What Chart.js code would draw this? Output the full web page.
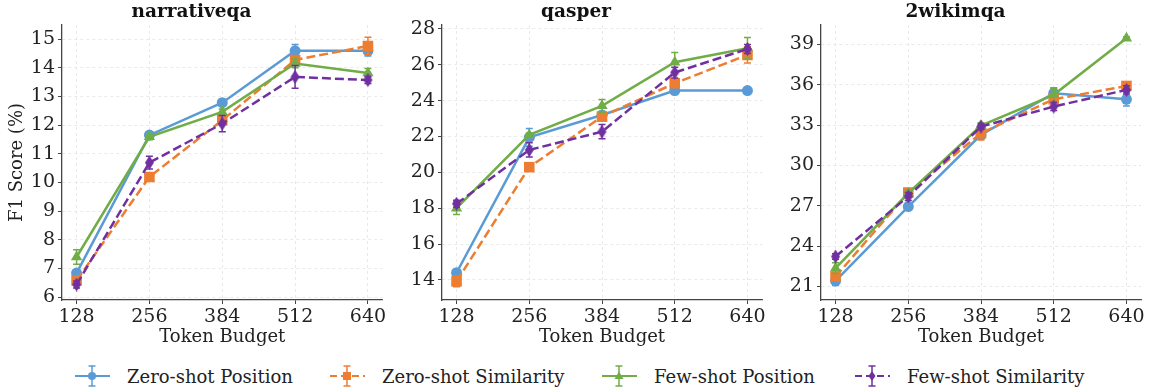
<!DOCTYPE html>
<html>
<head>
<meta charset="utf-8">
<script src="https://cdn.jsdelivr.net/npm/chart.js@4.4.0/dist/chart.umd.min.js"></script>
<style>
  body { margin: 0; background: #fff; width: 1150px; height: 392px; overflow: hidden; position: relative; font-family: "DejaVu Serif", serif; }
  canvas { position: absolute; top: 0; }
  .legend-item { position: absolute; top: 364px; height: 24px; display: flex; align-items: center; font-size: 18px; color: #222; white-space: nowrap; }
  .legend-item svg { margin-right: 17px; }
</style>
</head>
<body>
<canvas id="c1" width="390" height="355" style="left:0px"></canvas>
<canvas id="c2" width="380" height="355" style="left:390px"></canvas>
<canvas id="c3" width="380" height="355" style="left:770px"></canvas>
<div id="legend"></div>
<script>
// token budgets on the x axis
const budgets = [128, 256, 384, 512, 640];
const seriesNames = ['Zero-shot Position', 'Zero-shot Similarity', 'Few-shot Position', 'Few-shot Similarity'];

// narrativeqa
const nqaZeroPos = [6.84, 11.65, 12.78, 14.59, 14.59];
const nqaZeroPosErr = [0.1, 0.08, 0.12, 0.22, 0.18];
const nqaZeroSim = [6.58, 10.19, 12.17, 14.27, 14.76];
const nqaZeroSimErr = [0.1, 0.08, 0.1, 0.12, 0.3];
const nqaFewPos = [7.4, 11.59, 12.46, 14.15, 13.82];
const nqaFewPosErr = [0.25, 0.1, 0.1, 0.15, 0.15];
const nqaFewSim = [6.44, 10.69, 12.05, 13.68, 13.57];
const nqaFewSimErr = [0.12, 0.22, 0.28, 0.4, 0.12];
const nqaTicks = [6, 7, 8, 9, 10, 11, 12, 13, 14, 15];

// qasper
const qasZeroPos = [14.4, 21.95, 23.2, 24.56, 24.56];
const qasZeroPosErr = [0.1, 0.5, 0.15, 0.22, 0.05];
const qasZeroSim = [13.92, 20.29, 23.11, 24.97, 26.55];
const qasZeroSimErr = [0.3, 0.22, 0.22, 0.2, 0.45];
const qasFewPos = [18.0, 22.09, 23.71, 26.14, 26.92];
const qasFewPosErr = [0.35, 0.1, 0.35, 0.55, 0.6];
const qasFewSim = [18.25, 21.25, 22.27, 25.57, 26.88];
const qasFewSimErr = [0.2, 0.4, 0.4, 0.3, 0.25];
const qasTicks = [14, 16, 18, 20, 22, 24, 26, 28];

// 2wikimqa
const wikiZeroPos = [21.42, 26.94, 32.27, 35.36, 34.91];
const wikiZeroPosErr = [0.35, 0.2, 0.3, 0.4, 0.5];
const wikiZeroSim = [21.74, 27.98, 32.39, 34.91, 35.9];
const wikiZeroSimErr = [0.3, 0.3, 0.5, 0.3, 0.2];
const wikiFewPos = [22.36, 27.93, 32.96, 35.24, 39.45];
const wikiFewPosErr = [0.4, 0.2, 0.2, 0.5, 0.1];
const wikiFewSim = [23.23, 27.69, 32.88, 34.37, 35.61];
const wikiFewSimErr = [0.2, 0.3, 0.2, 0.3, 0.3];
const wikiTicks = [21, 24, 27, 30, 33, 36, 39];

const colors = ['#5b9bd5', '#ed7d31', '#70ad47', '#7030a0'];
const dashed = [false, true, false, true];

Chart.defaults.font.family = '"DejaVu Serif", serif';
Chart.defaults.color = '#222';

// thin diamond marker like matplotlib 'd'
function thinDiamond(color) {
    const c = document.createElement('canvas');
    c.width = 11; c.height = 14;
    const g = c.getContext('2d');
    g.fillStyle = color;
    g.beginPath();
    g.moveTo(5.5, 0); g.lineTo(10, 7); g.lineTo(5.5, 14); g.lineTo(1, 7);
    g.closePath();
    g.fill();
    return c;
}

const pointStyles = ['circle', 'rect', 'triangle', thinDiamond(colors[3])];
const pointRadii = [5.5, 7.5, 6.5, 6];

const errorBars = {
    id: 'errorBars',
    afterDatasetDraw(chart, args) {
        const ctx = chart.ctx;
        const ys = chart.scales.y;
        const ds = chart.data.datasets[args.index];
        const meta = args.meta;
        ctx.save();
        ctx.strokeStyle = ds.borderColor;
        ctx.lineWidth = 1.5;
        ctx.setLineDash([]);
        meta.data.forEach((pt, i) => {
            const d = ds.data[i];
            const top = ys.getPixelForValue(d.y + d.err);
            const bot = ys.getPixelForValue(d.y - d.err);
            ctx.beginPath();
            ctx.moveTo(pt.x, top); ctx.lineTo(pt.x, bot);
            ctx.moveTo(pt.x - 3.5, top); ctx.lineTo(pt.x + 3.5, top);
            ctx.moveTo(pt.x - 3.5, bot); ctx.lineTo(pt.x + 3.5, bot);
            ctx.stroke();
        });
        ctx.restore();
    }
};

function makeDatasets(vals, errs) {
    return vals.map((v, k) => ({
        label: seriesNames[k],
        data: budgets.map((b, i) => ({ x: b, y: v[i], err: errs[k][i] })),
        borderColor: colors[k],
        backgroundColor: colors[k],
        borderWidth: 2.5,
        borderDash: dashed[k] ? [9, 4] : [],
        pointStyle: pointStyles[k],
        pointRadius: pointRadii[k],
        pointBorderWidth: 0,
        tension: 0,
        order: 3 - k
    }));
}

function makeChart(id, title, vals, errs, ticks, yMin, yMax, yWidth, padRight, showYTitle) {
    new Chart(document.getElementById(id), {
        type: 'line',
        data: { datasets: makeDatasets(vals, errs) },
        plugins: [errorBars],
        options: {
            responsive: false,
            animation: false,
            events: [],
            devicePixelRatio: 1,
            layout: { padding: { left: 0, right: padRight, top: 0, bottom: 0 } },
            plugins: {
                legend: { display: false },
                tooltip: { enabled: false },
                title: {
                    display: true, text: title, color: '#111',
                    font: { size: 18.5, weight: 'bold' },
                    padding: { top: 1.5, bottom: 1.3 }
                }
            },
            scales: {
                x: {
                    type: 'linear', min: 102.4, max: 665.6,
                    afterBuildTicks: s => { s.ticks = budgets.map(v => ({ value: v })); },
                    afterFit: s => { s.height = 55; },
                    ticks: { font: { size: 19 }, color: '#222', padding: 2, maxRotation: 0 },
                    grid: { color: '#e4e4e4', lineWidth: 0.8, tickLength: 4, tickColor: '#444', tickWidth: 1, tickBorderDash: [] },
                    border: { color: '#444', width: 1.3, dash: [3, 3] },
                    title: { display: true, text: 'Token Budget', font: { size: 18 }, color: '#222', padding: { top: 0, bottom: 7 } }
                },
                y: {
                    type: 'linear', min: yMin, max: yMax,
                    afterBuildTicks: s => { s.ticks = ticks.map(v => ({ value: v })); },
                    afterFit: s => { s.width = yWidth; },
                    ticks: { font: { size: 19 }, color: '#222', padding: 3 },
                    grid: { color: '#e4e4e4', lineWidth: 0.8, tickLength: 4, tickColor: '#444', tickWidth: 1, tickBorderDash: [] },
                    border: { color: '#444', width: 1.3, dash: [3, 3] },
                    title: { display: showYTitle, text: 'F1 Score (%)', font: { size: 18 }, color: '#222', padding: { top: 7, bottom: 0 } }
                }
            }
        }
    });
}

makeChart('c1', 'narrativeqa',
    [nqaZeroPos, nqaZeroSim, nqaFewPos, nqaFewSim],
    [nqaZeroPosErr, nqaZeroSimErr, nqaFewPosErr, nqaFewSimErr],
    nqaTicks, 5.9, 15.49, 62, 7, true);
makeChart('c2', 'qasper',
    [qasZeroPos, qasZeroSim, qasFewPos, qasFewSim],
    [qasZeroPosErr, qasZeroSimErr, qasFewPosErr, qasFewSimErr],
    qasTicks, 12.88, 28.22, 52, 8, false);
makeChart('c3', '2wikimqa',
    [wikiZeroPos, wikiZeroSim, wikiFewPos, wikiFewSim],
    [wikiZeroPosErr, wikiZeroSimErr, wikiFewPosErr, wikiFewSimErr],
    wikiTicks, 20.0, 40.43, 51, 9, false);

// legend with small svg handles
const legendLeft = [75, 330, 602, 855];
function markerSvg(k) {
    const c = colors[k];
    if (k === 0) return `<circle cx="17" cy="12" r="4" fill="${c}"/>`;
    if (k === 1) return `<rect x="13" y="8" width="8" height="8" fill="${c}"/>`;
    if (k === 2) return `<polygon points="17,7.5 21.5,15 12.5,15" fill="${c}"/>`;
    return `<polygon points="17,7 20.5,12 17,17 13.5,12" fill="${c}"/>`;
}
const legend = document.getElementById('legend');
seriesNames.forEach((name, k) => {
    const c = colors[k];
    const dash = dashed[k] ? 'stroke-dasharray="7,4"' : '';
    const item = document.createElement('div');
    item.className = 'legend-item';
    item.style.left = legendLeft[k] + 'px';
    item.innerHTML =
        `<svg width="35" height="24">` +
        `<line x1="0" y1="12" x2="35" y2="12" stroke="${c}" stroke-width="2" ${dash}/>` +
        `<line x1="17" y1="2" x2="17" y2="22" stroke="${c}" stroke-width="1.5"/>` +
        `<line x1="13.5" y1="2" x2="20.5" y2="2" stroke="${c}" stroke-width="1.5"/>` +
        `<line x1="13.5" y1="22" x2="20.5" y2="22" stroke="${c}" stroke-width="1.5"/>` +
        markerSvg(k) + `</svg><span>${name}</span>`;
    legend.appendChild(item);
});
</script>
</body>
</html>
